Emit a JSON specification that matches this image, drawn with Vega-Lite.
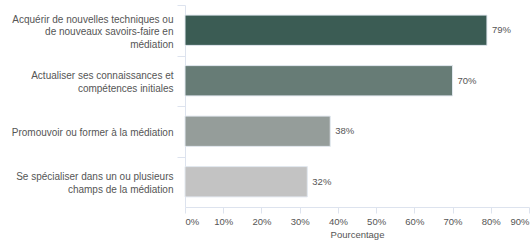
{
  "$schema": "https://vega.github.io/schema/vega-lite/v6.json",
  "width": 344,
  "height": 202,
  "autosize": "none",
  "padding": {"left": 185, "top": 5, "right": 3, "bottom": 33},
  "background": "white",
  "config": {"view": {"stroke": null}, "font": "Liberation Sans"},
  "data": {"values": [
    {"label": "Acquérir de nouvelles techniques ou|de nouveaux savoirs-faire en|médiation", "value": 0.79, "txt": "79%", "c": "#3b5c54"},
    {"label": "Actualiser ses connaissances et|compétences initiales", "value": 0.70, "txt": "70%", "c": "#677c76"},
    {"label": "Promouvoir ou former à la médiation", "value": 0.38, "txt": "38%", "c": "#959d9a"},
    {"label": "Se spécialiser dans un ou plusieurs|champs de la médiation", "value": 0.32, "txt": "32%", "c": "#c3c3c3"}
  ]},
  "encoding": {
    "y": {"field": "label", "type": "nominal", "sort": null,
      "scale": {"paddingInner": 0.4, "paddingOuter": 0.2},
      "axis": {"title": null, "labelExpr": "split(datum.label, '|')", "labelFontSize": 10, "labelColor": "#555", "labelLineHeight": 12.5, "labelBaseline": "middle", "tickOffset": -25.25, "tickSize": 8, "tickColor": "#dde3ee", "domainColor": "#dde3ee", "labelPadding": 4, "labelLimit": 200,
        "labelOffset": {"condition": [
          {"test": "length(split(datum.value, '|')) == 3", "value": 14},
          {"test": "length(split(datum.value, '|')) == 2", "value": 20.3}
        ], "value": 26.5}}},
    "x": {"field": "value", "type": "quantitative",
      "scale": {"domain": [0, 0.9], "nice": false},
      "axis": {"title": "Pourcentage", "format": ".0%", "values": [0,0.1,0.2,0.3,0.4,0.5,0.6,0.7,0.8,0.9], "grid": false, "labelFontSize": 9.5, "labelColor": "#555", "titleFontSize": 9.5, "titleFontWeight": "normal", "titleColor": "#555", "tickColor": "#dde3ee", "domainColor": "#dde3ee", "tickSize": 6, "labelPadding": 3, "titlePadding": 4, "labelFlush": true}}
  },
  "layer": [
    {"mark": {"type": "bar", "stroke": "#e3e9f0", "strokeWidth": 1},
     "encoding": {"color": {"field": "c", "type": "nominal", "scale": null}}},
    {"mark": {"type": "text", "align": "left", "dx": 5, "fontSize": 9.5, "fill": "#555"},
     "encoding": {"text": {"field": "txt"}}}
  ]
}
